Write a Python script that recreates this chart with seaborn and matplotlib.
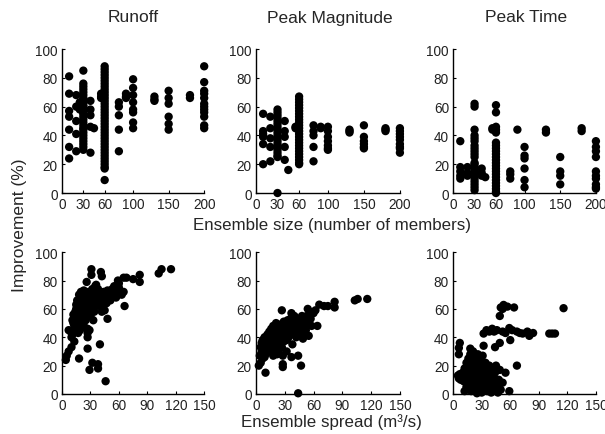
import matplotlib
matplotlib.use("Agg")
import matplotlib.pyplot as plt
import seaborn as sns
import pandas as pd

sns.set_style("ticks")
plt.rcParams['font.family'] = ['Liberation Sans', 'DejaVu Sans']

titles = ["Runoff", "Peak Magnitude", "Peak Time"]
size_ticks = [0, 30, 60, 100, 150, 200]
spread_ticks = [0, 30, 60, 90, 120, 150]
y_ticks = [0, 20, 40, 60, 80, 100]

# ---- Top row: improvement vs ensemble size ----
runoff_size = {
    10: [81, 69, 57, 53, 44, 32, 24],
    20: [68, 60, 50, 41, 29],
    25: [63, 58],
    30: [85, 76, 74, 72, 70, 68, 66, 65, 63, 61, 60, 58, 56, 55, 53, 51, 49, 47, 45, 44, 42, 40, 38, 36, 34, 32, 30],
    40: [64, 58, 54, 46, 28],
    45: [45],
    55: [69, 67, 66],
    60: [88, 86, 84, 82, 80, 78, 76, 74, 72, 70, 68, 66, 64, 62, 60, 58, 56, 54, 52, 50, 48, 46, 44, 42, 40, 38, 36, 34, 32, 30, 28, 26, 24, 22, 20, 18, 17, 9],
    80: [63, 60, 54, 44, 29],
    90: [69, 67, 66],
    100: [79, 73, 68, 63, 58, 56, 49, 45],
    130: [67, 65, 64],
    150: [71, 66, 62, 53, 48, 44],
    180: [68, 66],
    200: [88, 77, 71, 69, 66, 62, 60, 58, 56, 53, 47, 45],
}
peakmag_size = {
    10: [55, 43, 41, 39, 34, 20],
    20: [53, 45, 38, 32, 22],
    30: [58, 56, 54, 52, 50, 48, 46, 44, 42, 40, 38, 36, 34, 32, 30, 28, 26, 25, 0],
    40: [50, 43, 39, 32, 23],
    45: [16],
    55: [46, 45],
    60: [67, 65, 63, 61, 59, 57, 55, 53, 51, 49, 47, 45, 43, 41, 39, 37, 35, 33, 31, 29, 27, 25, 23, 21, 20],
    80: [47, 43, 40, 32, 22],
    90: [46, 45],
    100: [46, 43, 39, 36, 33, 31, 30],
    130: [44, 43, 42],
    150: [47, 39, 36, 34, 32, 31],
    180: [45, 44, 43],
    200: [45, 43, 41, 39, 37, 34, 32, 31, 28],
}
peaktime_size = {
    10: [36, 18, 15, 12, 10],
    20: [18, 14, 12],
    30: [62, 60, 44, 40, 38, 36, 33, 31, 29, 27, 25, 21, 20, 18, 16, 14, 12, 10, 8, 6, 4, 2],
    40: [17, 14, 12],
    45: [11],
    55: [45, 44],
    60: [61, 56, 46, 44, 42, 35, 33, 31, 29, 27, 25, 23, 21, 19, 17, 15, 13, 11, 9, 7, 5, 3, 1, 0],
    80: [15, 13, 10],
    90: [44],
    100: [32, 26, 24, 17, 9, 4],
    130: [44, 42],
    150: [25, 15, 12, 6],
    180: [45, 43],
    200: [36, 32, 29, 25, 15, 12, 10, 6, 4, 3],
}

# ---- Bottom row: improvement vs ensemble spread ----
runoff_spread_x = [102, 105, 115, 82, 82, 75, 68, 65, 31, 31, 41, 42, 26, 36, 59, 55, 66, 48, 27, 27, 40, 18, 29, 32, 38, 38, 46, 4, 5, 7, 10, 13, 7, 10, 27, 27, 29,
                   10, 11, 12, 12, 13, 13, 14, 14, 15, 15, 15, 12, 11, 16, 16,
                   17, 17, 18, 18, 18, 19, 19, 20, 20, 20, 21, 21, 22, 22, 22, 23, 23, 24, 24, 25, 25, 25, 16, 17, 19, 21, 23,
                   26, 26, 27, 27, 28, 28, 29, 29, 30, 30, 31, 32, 32, 33, 34, 34, 35, 36, 36, 37, 38, 38, 39, 40, 40, 35, 30, 33,
                   41, 42, 43, 43, 44, 45, 46, 47, 48, 49, 50, 51, 52, 53, 55, 56, 57, 58, 60, 62, 63, 65, 60, 45, 42]
runoff_spread_y = [85, 88, 88, 84, 79, 81, 82, 82, 88, 84, 86, 83, 79, 77, 80, 76, 62, 53, 40, 32, 35, 25, 17, 22, 21, 18, 9, 24, 27, 30, 33, 37, 45, 43, 46, 43, 45,
                   40, 42, 45, 50, 48, 55, 52, 58, 45, 60, 63, 56, 52, 50, 55,
                   48, 62, 65, 55, 70, 58, 52, 60, 67, 72, 55, 63, 58, 68, 50, 62, 73, 56, 66, 60, 70, 52, 66, 43, 45, 47, 48,
                   58, 64, 68, 55, 62, 72, 58, 66, 60, 70, 64, 67, 74, 62, 68, 58, 65, 71, 62, 67, 64, 74, 69, 62, 66, 76, 55, 52,
                   70, 64, 60, 68, 72, 66, 70, 64, 73, 68, 70, 66, 72, 74, 70, 73, 68, 72, 75, 71, 70, 72, 78, 59, 58]

peakmag_spread_x = [103, 106, 116, 82, 82, 75, 66, 71, 64, 27, 37, 54, 28, 28, 44, 47, 37, 32, 10, 44, 3, 5, 7, 4, 49, 55,
                    5, 6, 7, 8, 8, 9, 10, 10, 11, 12, 12, 13, 14, 14, 15, 15, 6, 9,
                    16, 16, 17, 17, 18, 18, 19, 19, 20, 20, 21, 21, 22, 22, 23, 23, 24, 24, 25, 25, 26, 26, 27, 27, 28, 29, 29, 30, 30, 18, 22, 28,
                    31, 32, 33, 33, 34, 35, 36, 37, 38, 39, 40, 41, 42, 43, 44, 45, 46, 47, 48, 50, 51, 52, 53, 55, 56, 57, 58, 60, 62, 38, 42, 48]
peakmag_spread_y = [66, 67, 67, 65, 61, 62, 63, 62, 48, 59, 57, 60, 21, 19, 27, 20, 26, 30, 15, 0.5, 20, 22, 25, 27, 39, 41,
                    33, 36, 38, 30, 35, 40, 28, 33, 37, 42, 31, 35, 39, 44, 30, 36, 30, 26,
                    40, 46, 33, 43, 37, 48, 30, 42, 35, 45, 39, 50, 33, 43, 37, 47, 41, 29, 35, 45, 39, 49, 33, 43, 47, 37, 51, 41, 45, 27, 28, 27,
                    48, 38, 44, 52, 40, 47, 53, 42, 49, 45, 55, 47, 51, 43, 49, 53, 46, 50, 55, 48, 52, 45, 55, 50, 58, 53, 48, 57, 59, 35, 40, 42]

peaktime_spread_x = [116, 101, 104, 107, 50, 53, 57, 64, 52, 49, 32, 35, 41, 46, 59, 62, 67, 73, 78, 80, 84, 44, 49, 60, 32, 67, 59, 7, 6, 6, 38, 43, 52, 55, 70,
                     5, 6, 7, 8, 9, 10, 11, 12, 13, 14, 15, 15, 16, 16, 17, 17, 18, 18, 19, 19, 20, 20, 21, 21, 22, 22, 23, 23, 24, 24, 25, 25, 26, 26, 27, 27, 28, 28, 29, 29,
                     30, 30, 31, 32, 33, 33, 34, 35, 36, 36, 37, 38, 39, 40, 41, 42, 43, 44, 45, 46, 47, 48, 49, 50, 52, 55, 18, 20, 14, 12, 26, 30, 40, 35, 45, 38, 42]
peaktime_spread_y = [60.5, 42.6, 42.6, 42.6, 61, 62.8, 61.6, 61, 60, 55, 42.6, 45, 46, 45, 46.5, 45, 44, 42.6, 44, 41, 43, 33, 36, 38, 34, 20, 2, 36, 32.5, 28, 44, 44, 44, 43, 43,
                     13, 11, 14, 10, 12, 15, 9, 18, 13, 22, 8, 16, 25, 12, 5, 19, 28, 14, 2, 9, 22, 16, 30, 6, 12, 19, 26, 3, 15, 9, 21, 0.5, 28, 13, 6, 18, 24, 10, 2, 15,
                     20, 8, 27, 13, 4, 18, 22, 10, 2, 16, 7, 20, 4, 13, 18, 2, 8, 15, 20, 5, 1, 10, 17, 3, 8, 15, 32, 30, 5, 2, 2, 1, 1, 5, 10, 10, 12]


def to_df(d):
    xs, ys = [], []
    for k, vals in d.items():
        xs.extend([k] * len(vals))
        ys.extend(vals)
    return pd.DataFrame({"x": xs, "y": ys})


top_data = [to_df(runoff_size), to_df(peakmag_size), to_df(peaktime_size)]
bottom_data = [pd.DataFrame({"x": runoff_spread_x, "y": runoff_spread_y}),
               pd.DataFrame({"x": peakmag_spread_x, "y": peakmag_spread_y}),
               pd.DataFrame({"x": peaktime_spread_x, "y": peaktime_spread_y})]

W, H = 605, 435
fig = plt.figure(figsize=(W / 100, H / 100), dpi=100)
lefts = [0.1025, 0.423, 0.749]
widths = [0.235, 0.238, 0.236]
top_b, top_h = 0.554, 0.331
bot_b, bot_h = 0.092, 0.326
title_x = [133, 330, 526]


def style(ax, xmax, xticks):
    ax.set_xlim(0, xmax)
    ax.set_ylim(0, 100)
    ax.set_xticks(xticks)
    ax.set_yticks(y_ticks)
    ax.set_xlabel("")
    ax.set_ylabel("")
    sns.despine(ax=ax)
    for s in ["left", "bottom"]:
        ax.spines[s].set_linewidth(1.0)
        ax.spines[s].set_color("black")
    ax.tick_params(axis="both", direction="in", labelsize=9.8, length=2.5, width=0.8,
                   colors="black", labelcolor="#222222", pad=3)


for i in range(3):
    ax = fig.add_axes([lefts[i], top_b, widths[i], top_h])
    sns.scatterplot(data=top_data[i], x="x", y="y", ax=ax, color="black",
                    edgecolor="none", s=36, clip_on=False, legend=False, zorder=3)
    style(ax, 200, size_ticks)
    fig.text(title_x[i] / W, 1 - 18 / H, titles[i], ha="center", va="center", fontsize=12.5)

    ax2 = fig.add_axes([lefts[i], bot_b, widths[i], bot_h])
    sns.scatterplot(data=bottom_data[i], x="x", y="y", ax=ax2, color="black",
                    edgecolor="none", s=36, clip_on=False, legend=False, zorder=3)
    style(ax2, 150, spread_ticks)

fig.text(332 / W, 1 - 226 / H, "Ensemble size (number of members)", ha="center", va="center", fontsize=12.2)
fig.text(331 / W, 1 - 422 / H, "Ensemble spread (m³/s)", ha="center", va="center", fontsize=12.2)
fig.text(20 / W, 1 - 225 / H, "Improvement (%)", ha="center", va="center", rotation=90, fontsize=12.5)

fig.savefig("out.png", dpi=100)
